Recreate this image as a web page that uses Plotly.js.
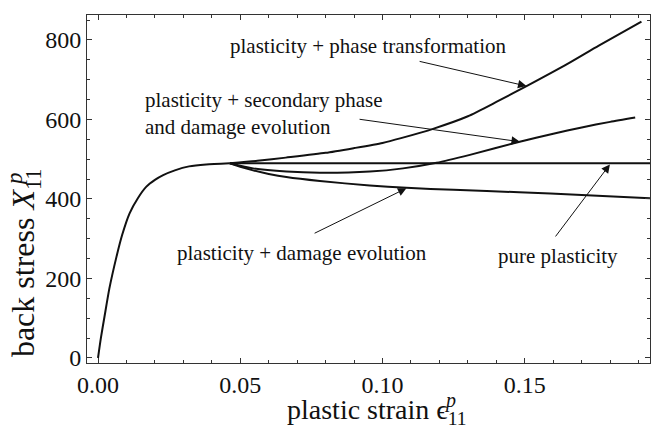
<!DOCTYPE html>
<html><head><meta charset="utf-8">
<script src="https://cdn.plot.ly/plotly-3.0.1.min.js"></script>
<style>html,body{margin:0;padding:0;background:#fff}#chart{width:651px;height:430px}</style>
</head><body><div id="chart"></div>
<script>
// initial (shared) hardening branch
const commonStrain = [0, 0.001, 0.0023, 0.004, 0.0065, 0.0085, 0.0111, 0.014, 0.017, 0.020, 0.0229, 0.027, 0.032, 0.038, 0.0463];
const commonStress = [0, 50, 105, 175, 255, 310, 364, 402, 431, 448, 460, 472, 482, 487, 490];
// pure plasticity
const pureStrain = [0.0463, 0.10, 0.15, 0.20];
const pureStress = [490, 490, 490, 490];
// plasticity + phase transformation
const phaseStrain = [0.0463, 0.056, 0.066, 0.080, 0.090, 0.100, 0.1065, 0.118, 0.130, 0.140, 0.1506, 0.165, 0.176, 0.191];
const phaseStress = [490, 496, 504, 516, 528, 541, 553, 577, 608, 644, 684, 740, 786, 846];
// plasticity + secondary phase and damage evolution
const secStrain = [0.0463, 0.0545, 0.0662, 0.078, 0.0955, 0.1072, 0.119, 0.1307, 0.1482, 0.160, 0.170, 0.180, 0.1888];
const secStress = [490, 477, 469, 466, 469, 477, 491, 511, 544, 564, 580, 594, 605];
// plasticity + damage evolution
const dmgStrain = [0.0463, 0.050, 0.0545, 0.060, 0.0662, 0.078, 0.0955, 0.1084, 0.125, 0.148, 0.170, 0.194];
const dmgStress = [490, 481, 472, 463, 455, 445, 434, 428, 423, 417, 410, 402];

const labels = ['plasticity + phase transformation', 'plasticity + secondary phase<br>and damage evolution', 'plasticity + damage evolution', 'pure plasticity'];
const xTickVals = [0, 0.05, 0.10, 0.15];
const xTickText = ['0.00', '0.05', '0.10', '0.15'];
const yTickVals = [0, 200, 400, 600, 800];

const serif = "'Liberation Serif', 'Times New Roman', serif";
const lineStyle = {color: '#111', width: 2, shape: 'spline', smoothing: 0.6};
function tr(x, y) { return {x: x, y: y, type: 'scatter', mode: 'lines', line: lineStyle, hoverinfo: 'skip', showlegend: false, cliponaxis: true}; }

const data = [
  tr(commonStrain, commonStress),
  tr(pureStrain, pureStress),
  tr(phaseStrain, phaseStress),
  tr(secStrain, secStress),
  tr(dmgStrain, dmgStress)
];

const textFont = {family: serif, size: 21, color: '#111'};
const yTitleFont = {family: serif, size: 32, color: '#111'};
const xTitleFont = {family: serif, size: 28, color: '#111'};
function arrow(tx, ty, hx, hy) {
  return {x: hx, y: hy, ax: tx, ay: ty, xref: 'x', yref: 'y', axref: 'x', ayref: 'y', text: '', showarrow: true,
    arrowhead: 2, arrowsize: 1.7, arrowwidth: 1, arrowcolor: '#111', standoff: 0, startstandoff: 0};
}
const annotations = [
  {x: 0.0952, y: 785, xref: 'x', yref: 'y', text: labels[0], showarrow: false, font: textFont, xanchor: 'center', yanchor: 'middle'},
  {x: 0.01575, y: 614, xref: 'x', yref: 'y', text: labels[1], showarrow: false, font: textFont, xanchor: 'left', yanchor: 'middle', align: 'left'},
  {x: 0.0718, y: 265, xref: 'x', yref: 'y', text: labels[2], showarrow: false, font: textFont, xanchor: 'center', yanchor: 'middle'},
  {x: 0.1618, y: 257, xref: 'x', yref: 'y', text: labels[3], showarrow: false, font: textFont, xanchor: 'center', yanchor: 'middle'},
  arrow(0.1125, 747, 0.1506, 684),
  arrow(0.0914, 601, 0.1483, 544),
  arrow(0.0756, 312, 0.1084, 427),
  arrow(0.1604, 302, 0.1799, 487),
  // y-axis title with stacked sub/superscript
  {x: -0.110, y: 0.01, xref: 'paper', yref: 'paper', text: 'back stress <i>X</i><sub>11</sub>', textangle: -90, showarrow: false, font: yTitleFont, xanchor: 'center', yanchor: 'bottom'},
  {x: -0.130, y: 0.528, xref: 'paper', yref: 'paper', text: '<i>p</i>', textangle: -90, showarrow: false, font: {family: serif, size: 23, color: '#111'}, xanchor: 'center', yanchor: 'middle'},
  // x-axis title with stacked sub/superscript
  {x: 0.3517, y: -0.14, xref: 'paper', yref: 'paper', text: 'plastic strain ϵ<sub>11</sub>', showarrow: false, font: xTitleFont, xanchor: 'left', yanchor: 'middle'},
  {x: 0.645, y: -0.108, xref: 'paper', yref: 'paper', text: '<i>p</i>', showarrow: false, font: {family: serif, size: 20, color: '#111'}, xanchor: 'center', yanchor: 'middle'}
];

const axisCommon = {showgrid: false, zeroline: false, showline: true, linecolor: '#333', linewidth: 1, mirror: 'ticks',
  ticks: 'inside', ticklen: 5, tickwidth: 1, tickcolor: '#333', tickfont: {family: serif, size: 24, color: '#111'}};

const layout = {
  width: 651, height: 430,
  margin: {l: 87, r: 1, t: 15, b: 67},
  paper_bgcolor: '#fff', plot_bgcolor: '#fff',
  xaxis: Object.assign({}, axisCommon, {range: [-0.00387, 0.194], tickvals: xTickVals, ticktext: xTickText,
    minor: {dtick: 0.01, tick0: 0, ticks: 'inside', ticklen: 3, tickcolor: '#333'}}),
  yaxis: Object.assign({}, axisCommon, {range: [-12.6, 862.8], tickvals: yTickVals,
    minor: {dtick: 50, tick0: 0, ticks: 'inside', ticklen: 3, tickcolor: '#333'}}),
  annotations: annotations
};

Plotly.newPlot('chart', data, layout, {displayModeBar: false, staticPlot: true});
</script>
</body></html>
